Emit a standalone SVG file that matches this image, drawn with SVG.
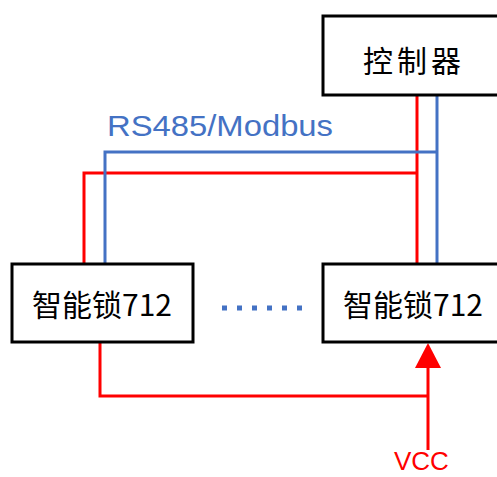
<svg xmlns="http://www.w3.org/2000/svg" width="497" height="477" viewBox="0 0 497 477">
<style>
.box{fill:#fff;stroke:#000;stroke-width:3}
.lbl{font-family:"Noto Sans CJK SC","Noto Sans",sans-serif;font-size:30px;fill:#000}
.red{stroke:#ff0000;stroke-width:3;fill:none}
.blue{stroke:#4472c4;stroke-width:3;fill:none}
</style>
<rect width="497" height="477" fill="#fff"/>
<g id="connectors">
<polyline class="red" points="84,264 84,173 417,173"/>
<line class="red" x1="417" y1="95" x2="417" y2="264"/>
<polyline class="blue" points="105,264 105,152 437,152"/>
<line class="blue" x1="437" y1="95" x2="437" y2="264"/>
<polyline class="red" points="100,342 100,396 428,396"/>
<line class="red" x1="428" y1="450" x2="428" y2="362"/>
<polygon points="428,343 415,368 441,368" fill="#ff0000"/>
<line x1="222" y1="308" x2="304" y2="308" stroke="#4472c4" stroke-width="5" stroke-dasharray="5 10"/>
</g>
<text id="bus-label" x="107" y="136" font-family="Liberation Sans, sans-serif" font-size="30" fill="#4472c4" textLength="226" lengthAdjust="spacingAndGlyphs">RS485/Modbus</text>
<g id="controller">
<rect class="box" x="323" y="16" width="190" height="79"/>
<text class="lbl" x="363" y="72" font-size="32" letter-spacing="4">控制器</text>
</g>
<g id="lock1">
<rect class="box" x="12" y="264" width="181" height="78"/>
<text class="lbl" x="32" y="316">智能锁712</text>
</g>
<g id="lock2">
<rect class="box" x="323" y="264" width="190" height="78"/>
<text class="lbl" x="343" y="316">智能锁712</text>
</g>
<text id="vcc" x="394" y="470" font-family="Liberation Sans, sans-serif" font-size="26" fill="#ff0000">VCC</text>
</svg>
